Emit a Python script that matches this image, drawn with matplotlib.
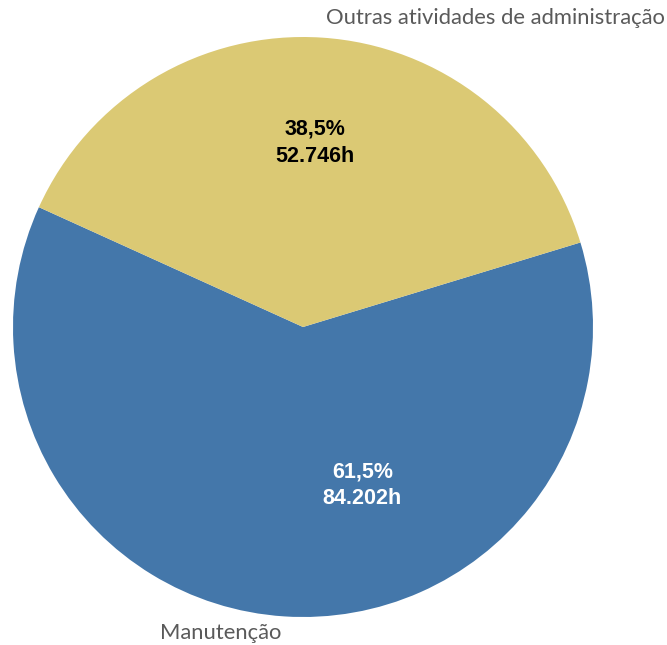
import matplotlib
matplotlib.use("Agg")
import matplotlib.pyplot as plt

categories = ["Manutenção", "Outras atividades de administração"]
hours = [84202, 52746]
pct_labels = ["61,5%", "38,5%"]
hour_labels = ["84.202h", "52.746h"]
colors = ["#4477AA", "#DBC974"]

W, H = 667, 645
fig = plt.figure(figsize=(W / 100, H / 100), dpi=100)
cx, cy, r = 303, 327, 290
ax = fig.add_axes([(cx - r) / W, (H - cy - r) / H, 2 * r / W, 2 * r / H])
ax.pie(hours, colors=colors, startangle=155.6, counterclock=True, radius=1,
       wedgeprops=dict(linewidth=0))
ax.set_xlim(-1, 1)
ax.set_ylim(-1, 1)
ax.set_aspect("equal")
ax.axis("off")

# inside labels
inner_pos = [(0.205, -0.545), (0.04, 0.635)]
inner_col = ["white", "black"]
for (x, y), p, h, c in zip(inner_pos, pct_labels, hour_labels, inner_col):
    ax.text(x, y, f"{p}\n{h}", ha="center", va="center", fontsize=15.5,
            fontweight="bold", color=c, family="Liberation Sans", linespacing=1.38)

# outside labels
fig.text(665 / W, 1 - 18 / H, categories[1], ha="right", va="center",
         fontsize=15.8, color="#5A5A5A", family="Lato")
fig.text(160 / W, 1 - 633 / H, categories[0], ha="left", va="center",
         fontsize=15.8, color="#5A5A5A", family="Lato")

fig.savefig("out.png", dpi=100)
